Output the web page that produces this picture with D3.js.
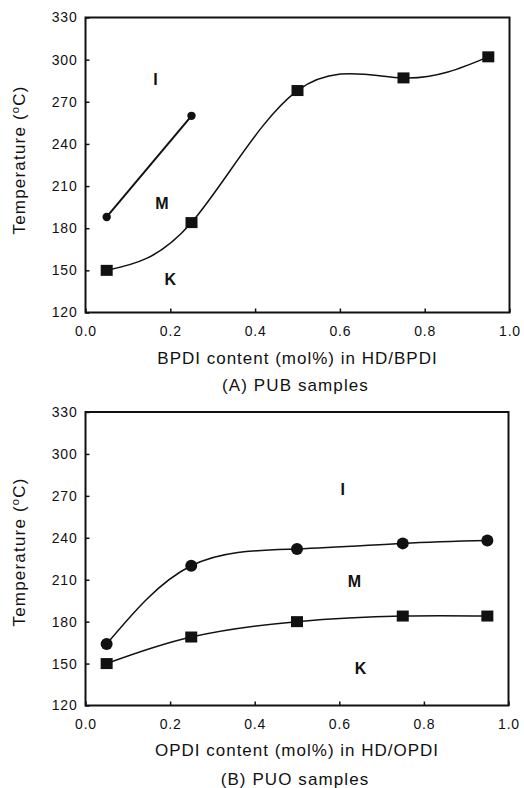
<!DOCTYPE html>
<html>
<head>
<meta charset="utf-8">
<script src="https://cdn.jsdelivr.net/npm/d3@7"></script>
<style>
  body { margin: 0; background: #fff; }
  svg text { font-family: "Liberation Sans", Arial, sans-serif; fill: #111; }
</style>
</head>
<body>
<svg id="chart" width="524" height="788"></svg>
<script>
// data
const content = [0.05, 0.25, 0.5, 0.75, 0.95];

// (A) PUB samples
const pubClearX = [0.05, 0.25];
const pubClear = [188, 260];            // circles, I/M boundary
const pubMelt = [150, 184, 278, 287, 302]; // squares, M/K boundary

// (B) PUO samples
const puoClear = [164, 220, 232, 236, 238];
const puoMelt = [150, 169, 180, 184, 184];

const yTicks = [120, 150, 180, 210, 240, 270, 300, 330];
const xTicks = [0.0, 0.2, 0.4, 0.6, 0.8, 1.0];

const phaseNames = ["I", "M", "K"];
const pubPhaseX = [0.165, 0.18, 0.20];
const pubPhaseY = [286, 198, 144];
const puoPhaseX = [0.608, 0.636, 0.65];
const puoPhaseY = [275, 209, 147];

const svg = d3.select("#chart");

function drawPanel(p) {
    const x = d3.scaleLinear().domain([0, 1]).range([p.left, p.right]);
    const y = d3.scaleLinear().domain([120, 330]).range([p.bottom, p.top]);
    const g = svg.append("g");

    // frame
    g.append("rect")
        .attr("x", p.left).attr("y", p.top)
        .attr("width", p.right - p.left).attr("height", p.bottom - p.top)
        .attr("fill", "none").attr("stroke", "#111").attr("stroke-width", 2);

    // axes, ticks inward
    const yAxis = g.append("g")
        .attr("transform", `translate(${p.left},0)`)
        .call(d3.axisLeft(y).tickValues(yTicks).tickSizeInner(-4).tickSizeOuter(0).tickPadding(8)
            .tickFormat(d3.format("d")));
    const xAxis = g.append("g")
        .attr("transform", `translate(0,${p.bottom})`)
        .call(d3.axisBottom(x).tickValues(xTicks).tickSizeInner(-4).tickSizeOuter(0).tickPadding(14)
            .tickFormat(d3.format(".1f")));
    [yAxis, xAxis].forEach(a => {
        a.select(".domain").remove();
        a.selectAll(".tick line").attr("stroke", "#111").attr("stroke-width", 1.5);
        a.selectAll("text").attr("font-size", 14).attr("letter-spacing", 0.8)
            .attr("font-family", "Liberation Sans, Arial, sans-serif").attr("fill", "#111");
    });

    const line = d3.line()
        .x(d => x(d[0]))
        .y(d => y(d[1]))
        .curve(d3.curveNatural);

    // circle series
    const circ = p.clearX.map((v, i) => [v, p.clear[i]]);
    g.append("path").datum(circ)
        .attr("d", line).attr("fill", "none")
        .attr("stroke", "#111").attr("stroke-width", p.clearWidth);
    g.selectAll(".circ").data(circ).enter().append("circle")
        .attr("cx", d => x(d[0])).attr("cy", d => y(d[1]))
        .attr("r", p.circR).attr("fill", "#111");

    // square series
    const sq = content.map((v, i) => [v, p.melt[i]]);
    g.append("path").datum(sq)
        .attr("d", line).attr("fill", "none")
        .attr("stroke", "#111").attr("stroke-width", 1.5);
    g.selectAll(".sq").data(sq).enter().append("rect")
        .attr("x", d => x(d[0]) - 6).attr("y", d => y(d[1]) - 5.5)
        .attr("width", 12).attr("height", 11).attr("fill", "#111");

    // phase labels
    g.selectAll(".phase").data(phaseNames).enter().append("text")
        .attr("x", (d, i) => x(p.phaseX[i]))
        .attr("y", (d, i) => y(p.phaseY[i]))
        .attr("dy", "0.36em")
        .attr("text-anchor", "middle")
        .attr("font-size", 16).attr("font-weight", "bold")
        .text(d => d);

    // y title
    const yt = g.append("text")
        .attr("transform", `translate(25,${p.yTitleY}) rotate(-90)`)
        .attr("text-anchor", "middle")
        .attr("font-size", 17).attr("letter-spacing", 1.2);
    yt.append("tspan").text("Temperature (");
    yt.append("tspan").attr("font-size", 11).attr("dy", -6).text("o");
    yt.append("tspan").attr("dy", 6).text("C)");

    // x title and caption
    g.append("text")
        .attr("x", (p.left + p.right) / 2).attr("y", p.xTitleY)
        .attr("text-anchor", "middle").attr("font-size", 17).attr("letter-spacing", 1.0)
        .text(p.xTitle);
    g.append("text")
        .attr("x", (p.left + p.right) / 2 - 2).attr("y", p.captionY)
        .attr("text-anchor", "middle").attr("font-size", 17).attr("letter-spacing", 1.1)
        .text(p.caption);
}

drawPanel({
    left: 85.5, right: 509.5, top: 17.5, bottom: 312.5,
    clearX: pubClearX, clear: pubClear, melt: pubMelt,
    clearWidth: 2, circR: 4.2,
    phaseX: pubPhaseX, phaseY: pubPhaseY,
    yTitleY: 160, xTitleY: 364, captionY: 391,
    xTitle: "BPDI content (mol%) in HD/BPDI",
    caption: "(A) PUB samples"
});

drawPanel({
    left: 85.5, right: 508.5, top: 412, bottom: 705.5,
    clearX: content, clear: puoClear, melt: puoMelt,
    clearWidth: 1.5, circR: 6,
    phaseX: puoPhaseX, phaseY: puoPhaseY,
    yTitleY: 552, xTitleY: 756, captionY: 785,
    xTitle: "OPDI content (mol%) in HD/OPDI",
    caption: "(B) PUO samples"
});
</script>
</body>
</html>
